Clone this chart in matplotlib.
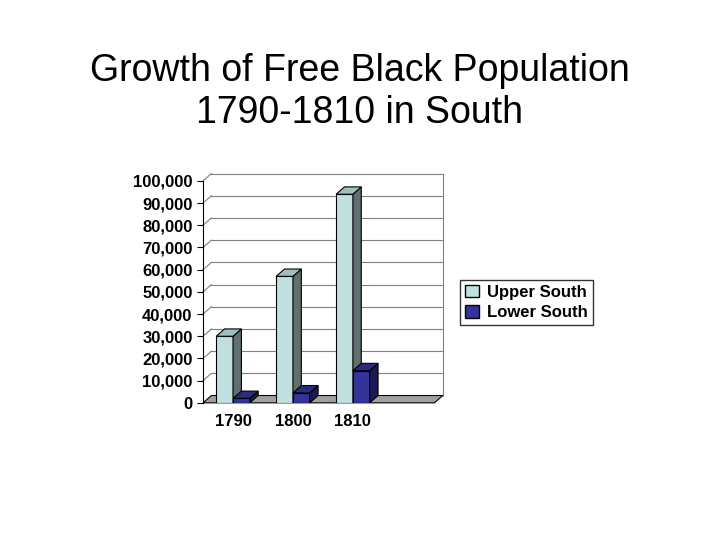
import matplotlib.pyplot as plt
from matplotlib.patches import Polygon, Patch

years = ['1790', '1800', '1810', '']
upper_south = [30000, 57000, 94000]
lower_south = [2000, 4500, 14500]

fig = plt.figure(figsize=(7.2, 5.4), dpi=100)
fig.text(0.5, 0.83, 'Growth of Free Black Population\n1790-1810 in South',
         ha='center', va='center', fontsize=27, family='Liberation Sans', linespacing=1.2)

ax = fig.add_axes([0.282, 0.254, 0.333, 0.411])
ax.set_xlim(0, 4)
ax.set_ylim(0, 100000)
dx, dy = 0.14, 3300
w = 0.28


def bar3d(x0, h, face, side, top):
    ax.add_patch(Polygon([(x0, 0), (x0 + w, 0), (x0 + w, h), (x0, h)], closed=True,
                         facecolor=face, edgecolor='black', lw=0.8, zorder=3))
    ax.add_patch(Polygon([(x0 + w, 0), (x0 + w + dx, dy), (x0 + w + dx, h + dy), (x0 + w, h)],
                         closed=True, facecolor=side, edgecolor='black', lw=0.8, zorder=3))
    ax.add_patch(Polygon([(x0, h), (x0 + dx, h + dy), (x0 + w + dx, h + dy), (x0 + w, h)],
                         closed=True, facecolor=top, edgecolor='black', lw=0.8, zorder=3))


for i, (u, l) in enumerate(zip(upper_south, lower_south)):
    c = i + 0.5
    bar3d(c - w, u, '#c0e0e0', '#607070', '#a0c0c0')
    bar3d(c, l, '#333399', '#1a1a4d', '#2a2a80')

# grid / back wall
for v in range(10000, 100001, 10000):
    ax.plot([0, dx], [v, v + dy], color='gray', lw=0.8, zorder=1, clip_on=False)
    ax.plot([dx, 4], [v + dy, v + dy], color='gray', lw=0.8, zorder=1, clip_on=False)
ax.plot([4, 4], [dy, 100000 + dy], color='gray', lw=0.8, zorder=1, clip_on=False)
ax.add_patch(Polygon([(0, 0), (dx, dy), (4, dy), (4 - dx, 0)], closed=True,
                     facecolor='#a0a0a0', edgecolor='black', lw=0.8, zorder=2, clip_on=False))

ax.set_xticks([0.5, 1.5, 2.5, 3.5])
ax.set_xticklabels(years)
ax.set_yticks(range(0, 100001, 10000))
ax.set_yticklabels(['{:,}'.format(v) for v in range(0, 100001, 10000)])
for lab in ax.get_xticklabels() + ax.get_yticklabels():
    lab.set_fontweight('bold')
    lab.set_fontsize(12)
    lab.set_family('Liberation Sans')
ax.tick_params(axis='x', length=0, pad=8)
ax.tick_params(axis='y', direction='out', length=4)
for s in ['top', 'right', 'bottom']:
    ax.spines[s].set_visible(False)

handles = [Patch(facecolor='#c0e0e0', edgecolor='black', label='Upper South'),
           Patch(facecolor='#333399', edgecolor='black', label='Lower South')]
leg = fig.legend(handles=handles, loc='center left', bbox_to_anchor=(0.628, 0.44),
                 fancybox=False, edgecolor='black', handlelength=0.8, handleheight=0.8,
                 borderpad=0.3, labelspacing=0.3, handletextpad=0.5,
                 prop={'family': 'Liberation Sans', 'weight': 'bold', 'size': 12})

fig.savefig('out.png', dpi=100)
